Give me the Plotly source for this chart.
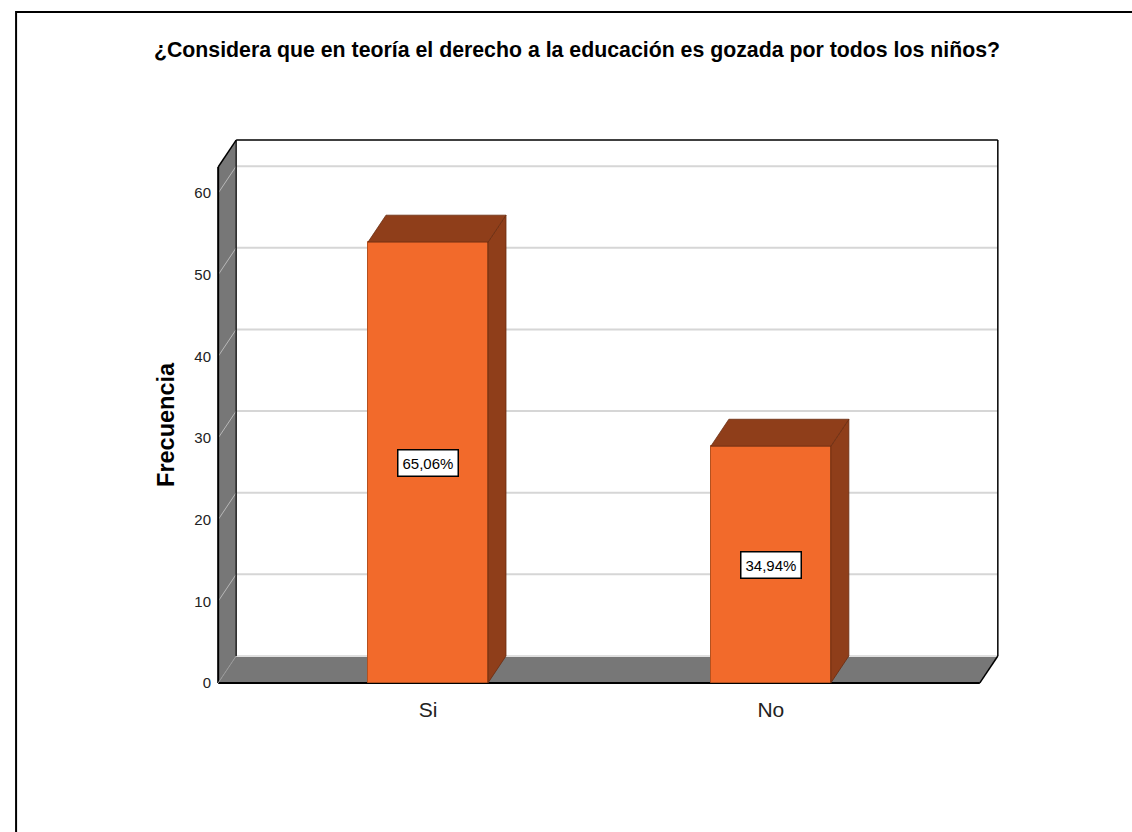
import plotly.graph_objects as go

# ---------------- data ----------------
categories = ["Si", "No"]
frequencies = [54, 29]
percent_labels = ["65,06%", "34,94%"]
y_ticks = [0, 10, 20, 30, 40, 50, 60]

title_text = "¿Considera que en teoría el derecho a la educación es gozada por todos los niños?"
y_title = "Frecuencia"

# ---------------- style / geometry ----------------
FONT = "Liberation Sans, Arial, sans-serif"
ORANGE = "#F26A2B"
ORANGE_EDGE = "#B4511F"
DARK = "#8F3E1A"
DARK_EDGE = "#6A2C10"
GRAY = "#777777"
GRID = "#D6D6D6"

x_pos = list(range(len(categories)))
BAR_W = 0.35
DX = 0.0525          # 3-D depth (x units)
DY = 3.3             # 3-D depth (y units)
X_LEFT = -0.612
X_RIGHT = 1.662
X_RANGE = [-0.63, 1.68]
Y_RANGE = [-0.5, 67.0]
WALL_TOP = 63.2

W, H = 1132, 832
PX_X = 343.0         # px per x unit
PX_Y = 8.165         # px per y unit
L = 212
T = 136
PLOT_W = (X_RANGE[1] - X_RANGE[0]) * PX_X
PLOT_H = (Y_RANGE[1] - Y_RANGE[0]) * PX_Y
R = W - L - PLOT_W
B = H - T - PLOT_H


def px2paper(px, py):
    return (px - L) / PLOT_W, (T + PLOT_H - py) / PLOT_H


shapes = []


def line(x0, y0, x1, y1, color, width):
    shapes.append(dict(type="line", xref="x", yref="y", x0=x0, y0=y0, x1=x1, y1=y1,
                       line=dict(color=color, width=width), layer="below"))


def poly(pts, fill):
    d = "M " + " L ".join(f"{a},{b}" for a, b in pts) + " Z"
    shapes.append(dict(type="path", xref="x", yref="y", path=d, fillcolor=fill,
                       line=dict(width=0), layer="below"))


# back wall
poly([(X_LEFT + DX, DY), (X_RIGHT, DY), (X_RIGHT, WALL_TOP + DY), (X_LEFT + DX, WALL_TOP + DY)], "white")
# left wall
poly([(X_LEFT, 0), (X_LEFT + DX, DY), (X_LEFT + DX, WALL_TOP + DY), (X_LEFT, WALL_TOP)], GRAY)
# floor
poly([(X_LEFT, 0), (X_RIGHT - DX, 0), (X_RIGHT, DY), (X_LEFT + DX, DY)], GRAY)

# grid lines (back wall + left wall diagonals)
for v in y_ticks[1:]:
    line(X_LEFT + DX, v + DY, X_RIGHT, v + DY, GRID, 2)
    line(X_LEFT, v, X_LEFT + DX, v + DY, "#B8B8B8", 1)
# floor back edge
line(X_LEFT + DX, DY, X_RIGHT, DY, "#E0E0E0", 2)

# frame edges
line(X_LEFT + DX, WALL_TOP + DY, X_RIGHT, WALL_TOP + DY, "black", 1.5)
line(X_RIGHT, DY, X_RIGHT, WALL_TOP + DY, "black", 1.5)
line(X_LEFT + DX, DY, X_LEFT + DX, WALL_TOP + DY, "#222222", 1.5)
line(X_LEFT, 0, X_LEFT, WALL_TOP, "black", 2)
line(X_LEFT, WALL_TOP, X_LEFT + DX, WALL_TOP + DY, "black", 1.5)
line(X_LEFT, 0, X_RIGHT - DX, 0, "black", 2)
line(X_RIGHT - DX, 0, X_RIGHT, DY, "black", 1.5)
line(X_LEFT, 0, X_LEFT + DX, DY, "#999999", 1)

# outer page border
bx0, by0 = px2paper(16, 836)
bx1, by1 = px2paper(16, 12)
bx2, by2 = px2paper(1140, 12)
shapes.append(dict(type="path", xref="paper", yref="paper",
                   path=f"M {bx0},{by0} L {bx1},{by1} L {bx2},{by2}",
                   line=dict(color="black", width=2)))

fig = go.Figure()

# front faces of bars
fig.add_trace(go.Bar(x=x_pos, y=frequencies, width=BAR_W,
                     marker=dict(color=ORANGE, line=dict(color=ORANGE_EDGE, width=1)),
                     hoverinfo="skip", showlegend=False))

# top and side faces of bars
for xc, v in zip(x_pos, frequencies):
    xl, xr = xc - BAR_W / 2, xc + BAR_W / 2
    top_x = [xl, xl + DX, xr + DX, xr, xl]
    top_y = [v, v + DY, v + DY, v, v]
    side_x = [xr, xr + DX, xr + DX, xr, xr]
    side_y = [0, DY, v + DY, v, 0]
    for px_, py_ in ((side_x, side_y), (top_x, top_y)):
        fig.add_trace(go.Scatter(x=px_, y=py_, mode="lines", fill="toself",
                                 fillcolor=DARK, line=dict(color=DARK_EDGE, width=0.8),
                                 hoverinfo="skip", showlegend=False))

annotations = []
for xc, v, lab in zip(x_pos, frequencies, percent_labels):
    annotations.append(dict(x=xc, y=v / 2, xref="x", yref="y", text=lab, showarrow=False,
                            font=dict(family=FONT, size=15, color="black"),
                            bgcolor="white", bordercolor="black", borderwidth=1.5, borderpad=4))

ax_, ay_ = px2paper(166, 425)
annotations.append(dict(x=ax_, y=ay_, xref="paper", yref="paper", text=f"<b>{y_title}</b>",
                        textangle=-90, showarrow=False, xanchor="center", yanchor="middle",
                        font=dict(family=FONT, size=23.5, color="black")))

fig.update_layout(
    width=W, height=H,
    margin=dict(l=L, r=R, t=T, b=B, autoexpand=False),
    paper_bgcolor="white", plot_bgcolor="white",
    title=dict(text=f"<b>{title_text}</b>", x=577 / W, xanchor="center",
               y=1 - 50 / H, yanchor="middle", yref="container",
               font=dict(family=FONT, size=21.3, color="black")),
    xaxis=dict(range=X_RANGE, tickvals=x_pos, ticktext=categories, showgrid=False,
               zeroline=False, showline=False, ticks="outside", ticklen=4,
               tickcolor="rgba(0,0,0,0)",
               tickfont=dict(family=FONT, size=21, color="#222222")),
    yaxis=dict(range=Y_RANGE, tickvals=y_ticks, showgrid=False, zeroline=False,
               showline=False, ticks="",
               tickfont=dict(family=FONT, size=15, color="#222222")),
    shapes=shapes,
    annotations=annotations,
    bargap=0,
)

fig.write_html("out.html", config={"displayModeBar": False},
               post_script="document.body.style.margin='0';document.body.style.overflow='hidden';")
